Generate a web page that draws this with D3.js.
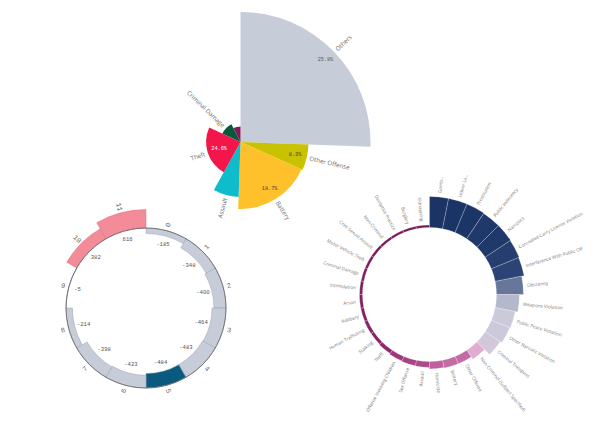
<!DOCTYPE html>
<html><head><meta charset="utf-8">
<script src="https://cdn.jsdelivr.net/npm/d3@7"></script>
<style>html,body{margin:0;padding:0;background:#fff}svg{display:block}</style>
</head><body>
<svg id="c" width="600" height="435"></svg>
<script>
// ---- Rose (polar area) chart ----
const roseCategories = ["Others","Other Offense","Battery","Assault","Theft","Criminal Damage",""];
const roseShare = [25.6, 6.1, 18.9, 7.5, 23.9, 10.6, 7.5];
const roseRadius = [100, 52.3, 51.5, 42.3, 26.5, 15.4, 12];
const rosePctLabels = ["25.8%","8.3%","18.7%","","24.6%","",""];
const roseColors = ["#c6cdd9","#c8c200","#fec12c","#0fbccb","#f2164b","#08593b","#82185b"];
const rosePctColors = ["#555","#444","#444","#444","#fff","#fff","#fff"];

// ---- Gauge / radial +/- bar chart ----
const gaugeLabels = ["0","1","2","3","4","5","6","7","8","9","10","11"];
const gaugeValues = [-185,-348,-400,-464,-483,-484,-423,-398,-214,-5,382,616];
const gaugeHighlight = 5;

// ---- Radial bar chart ----
const radialCategories = ["Gamb...","Liquor La...","Prostitution","Public Indecency","Narcotics",
 "Concealed Carry License Violation","Interference With Public Off","Obscenity","Weapons Violation",
 "Public Peace Violation","Other Narcotic Violation","Criminal Tresspass","Non-Criminal (Subject Specified)",
 "Other Offense","Battery","Homicide","Assault","Sex Offense","Offense Involving Children","Theft",
 "Stalking","Human Trafficking","Robbery","Arson","Intimidation","Criminal Damage","Motor Vehicle Theft",
 "Crim Sexual Assault","Non-Criminal","Deceptive Practice","Burglary","Kidnapping"];
const radialValues = [100,100,99.6,98.5,98.5,97,95,87,74,66,64,58,35,26,26,24,19,18,16,13,11,11,10,10,9.5,9,8.7,8.7,8.4,8,8,8];

const svg = d3.select("#c");
const deg = a => a*180/Math.PI;

function radialText(g, cx, cy, a, r, txt, opts) {
  const d = ((deg(a) % 360) + 360) % 360;
  const x = cx + r*Math.sin(a), y = cy - r*Math.cos(a);
  const right = d < 180;
  const rot = right ? d - 90 : d + 90;
  return g.append("text")
    .attr("transform", `translate(${x},${y}) rotate(${rot})`)
    .attr("text-anchor", opts.anchor || (right ? "start" : "end"))
    .attr("dominant-baseline", "central")
    .attr("font-family", opts.family)
    .attr("font-size", opts.size)
    .attr("fill", opts.fill)
    .text(txt);
}

// ===== Rose =====
(function(){
  const cx = 240.5, cy = 142;
  const rScale = d3.scaleLinear().domain([0,100]).range([0,130]);
  const data = roseCategories.map((c,i)=>({name:c, share:roseShare[i], r:roseRadius[i], pct:rosePctLabels[i], color:roseColors[i], pc:rosePctColors[i]}));
  const pie = d3.pie().sort(null).value(d=>d.share);
  const arcs = pie(data);
  const g = svg.append("g").attr("transform",`translate(${cx},${cy})`);
  const arc = d3.arc().innerRadius(0).outerRadius(d=>rScale(d.data.r));
  g.selectAll("path").data(arcs).join("path").attr("d",arc).attr("fill",d=>d.data.color);
  const lg = svg.append("g");
  arcs.forEach(d=>{
    const a = (d.startAngle+d.endAngle)/2;
    const R = rScale(d.data.r);
    if (d.data.name) radialText(lg, cx, cy, a, R+3, d.data.name, {family:"'Open Sans', sans-serif", size:6.2, fill:"#6e6e6e"});
    if (d.data.pct) {
      const rr = R-12;
      lg.append("text").attr("x", cx+rr*Math.sin(a)).attr("y", cy-rr*Math.cos(a))
        .attr("text-anchor","middle").attr("dominant-baseline","central")
        .attr("font-family","'Liberation Mono', monospace").attr("font-size",5.2)
        .attr("fill",d.data.pc).text(d.data.pct);
    }
  });
})();

// ===== Gauge =====
(function(){
  const cx = 146, cy = 308, R0 = 80;
  const r = d3.scaleLinear().domain([-500, 600]).range([65, 98]);
  const step = 2*Math.PI/gaugeValues.length;
  const g = svg.append("g").attr("transform",`translate(${cx},${cy})`);
  const arc = d3.arc();
  gaugeValues.forEach((v,i)=>{
    const rv = r(v);
    const col = i===gaugeHighlight ? "#0a5a80" : (v>0 ? "#f38b99" : "#c6cdd9");
    g.append("path").attr("d", arc({innerRadius:Math.min(R0,rv), outerRadius:Math.max(R0,rv), startAngle:i*step, endAngle:(i+1)*step}))
      .attr("fill", col).attr("stroke", v>0 ? "#d9707f" : "#98a1b0").attr("stroke-width",0.5);
  });
  g.append("circle").attr("r",R0).attr("fill","none").attr("stroke","#6a6a6a").attr("stroke-width",0.9);
  const lg = svg.append("g");
  gaugeValues.forEach((v,i)=>{
    const a = (i+0.5)*step, rv = r(v);
    const rIn = Math.min(R0,rv) - 9;
    lg.append("text").attr("x", cx+rIn*Math.sin(a)).attr("y", cy-rIn*Math.cos(a))
      .attr("text-anchor","middle").attr("dominant-baseline","central")
      .attr("font-family","'Liberation Mono', monospace").attr("font-size",5.6)
      .attr("fill","#555").text(v);
    radialText(lg, cx, cy, a, Math.max(R0,rv)+6, gaugeLabels[i], {anchor:"middle", family:"'Liberation Mono', monospace", size:7, fill:"#666"});
  });
})();

// ===== Radial bars =====
(function(){
  const cx = 429.5, cy = 294.5, rIn = 67;
  const r = d3.scaleLinear().domain([0,100]).range([rIn, rIn+31]);
  const color = d3.scaleLinear()
    .domain([8, 13, 20, 26, 35, 58, 66, 74, 87, 95, 100])
    .range(["#7a1a5a","#8f2a6c","#b24f8f","#c46aa5","#e0add0","#d3c7da","#cacadb","#b3b9cb","#67779a","#2c4475","#1b3466"]);
  const step = 2*Math.PI/radialValues.length;
  const g = svg.append("g").attr("transform",`translate(${cx},${cy})`);
  const arc = d3.arc();
  radialValues.forEach((v,i)=>{
    g.append("path").attr("d", arc({innerRadius:rIn, outerRadius:r(v), startAngle:i*step, endAngle:(i+1)*step}))
      .attr("fill", color(v)).attr("stroke","rgba(255,255,255,0.45)").attr("stroke-width",0.5);
  });
  const lg = svg.append("g");
  radialCategories.forEach((c,i)=>{
    radialText(lg, cx, cy, (i+0.5)*step, r(radialValues[i])+4, c, {family:"'Open Sans', sans-serif", size:4.6, fill:"#7a7a7a"});
  });
})();
</script>
</body></html>
